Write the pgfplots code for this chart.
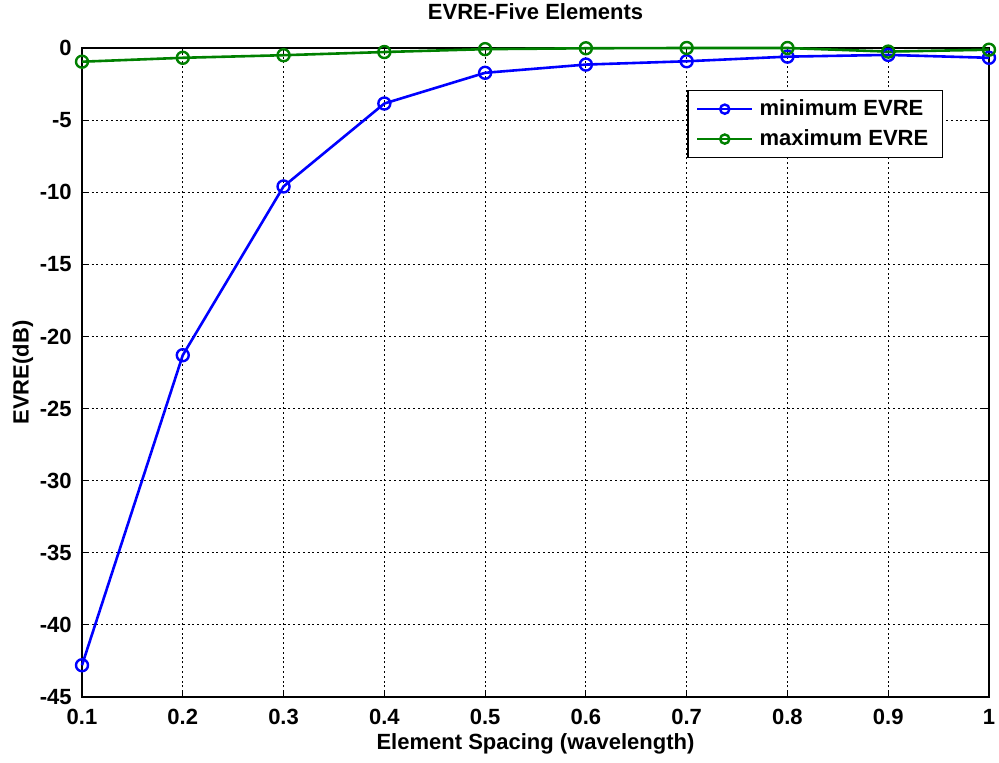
\documentclass[border=0pt]{standalone}
\usepackage{fontspec}
\setmainfont{Liberation Sans}
\usepackage{pgfplots}
\pgfplotsset{compat=1.18}

\definecolor{mblue}{RGB}{0,0,255}
\definecolor{mgreen}{RGB}{0,128,0}

\begin{document}
\begin{tikzpicture}
\useasboundingbox (-41pt,-33pt) rectangle (458.5pt,348.5pt);
\begin{axis}[
    at={(0,0)}, anchor=south west,
    scale only axis,
    width=453.5pt, height=324.5pt,
    xmin=0.1, xmax=1, ymin=-45, ymax=0,
    xtick={0.1,0.2,...,1.0},
    xticklabels={0.1,0.2,0.3,0.4,0.5,0.6,0.7,0.8,0.9,1},
    ytick={-45,-40,...,0},
    yticklabels={-45,-40,-35,-30,-25,-20,-15,-10,-5,0},
    font=\fontsize{11}{13}\selectfont\bfseries,
    tick align=inside,
    major tick length=3.5pt,
    axis line style={line width=0.8pt},
    every tick/.style={black, line width=0.6pt},
    grid=major,
    major grid style={black, line width=0.45pt, dash pattern=on 1pt off 1.4pt},
    xticklabel style={anchor=base, yshift=-14pt},
    yticklabel style={anchor=east, inner sep=0pt, xshift=-5pt},
    title={EVRE-Five Elements},
    title style={at={(axis description cs:0.5,1)}, anchor=base, yshift=8pt},
    xlabel={Element Spacing (wavelength)},
    xlabel style={at={(axis description cs:0.5,0)}, anchor=base, yshift=-26.5pt},
    ylabel={EVRE(dB)},
    ylabel style={at={(axis description cs:-0.065,0.5)}, anchor=center},
    clip=false,
    legend cell align=left,
    legend style={at={(axis description cs:0.9493,0.9353)}, anchor=north east,
        draw=black, line width=0.7pt, fill=white,
        inner xsep=4pt, inner ysep=2.5pt, row sep=1.5pt,
        nodes={inner xsep=3pt, inner ysep=2pt}},
    legend image code/.code={
        \draw[#1, line width=1.3pt, mark=none] (0pt,0pt) -- (27.5pt,0pt);
        \draw[#1, line width=1.2pt, mark size=2.3pt, only marks] plot coordinates {(13.75pt,0pt)};
    },
]
\addplot[color=mblue, line width=1.3pt, mark=o, mark size=3pt,
    mark options={line width=1.2pt}] coordinates {
(0.1,-42.8)(0.2,-21.3)(0.3,-9.6)(0.4,-3.85)(0.5,-1.72)
(0.6,-1.15)(0.7,-0.92)(0.8,-0.6)(0.9,-0.48)(1.0,-0.68)
};
\addlegendentry{minimum EVRE}
\addplot[color=mgreen, line width=1.3pt, mark=o, mark size=3pt,
    mark options={line width=1.2pt}] coordinates {
(0.1,-0.95)(0.2,-0.68)(0.3,-0.5)(0.4,-0.28)(0.5,-0.08)
(0.6,-0.02)(0.7,0)(0.8,0)(0.9,-0.25)(1.0,-0.12)
};
\addlegendentry{maximum EVRE}
\end{axis}
\end{tikzpicture}
\end{document}
